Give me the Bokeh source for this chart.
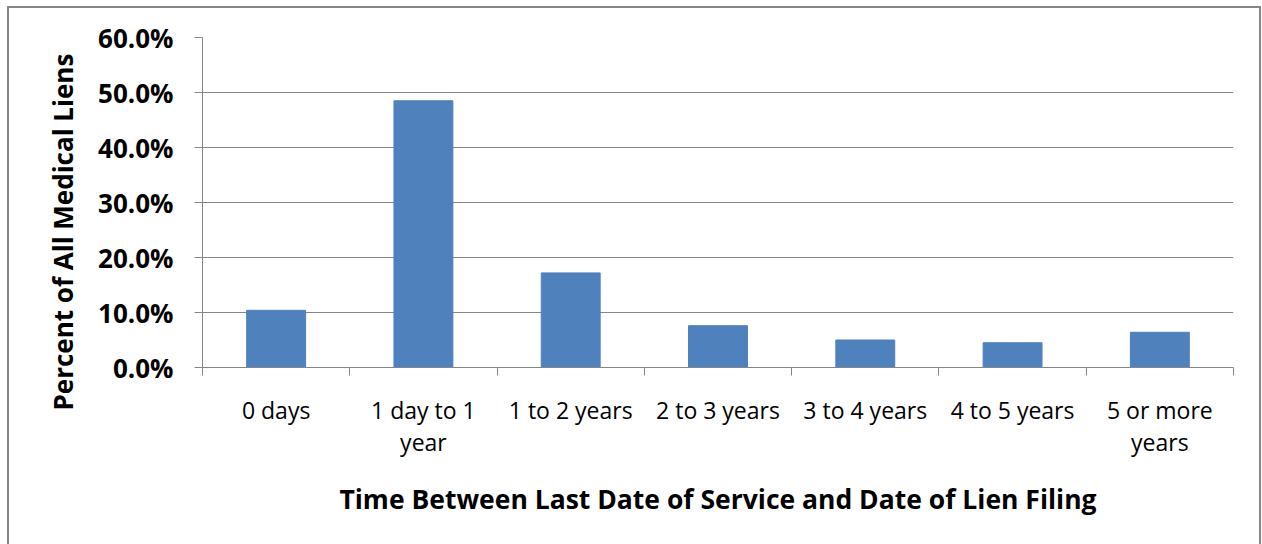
from bokeh.embed import file_html
from bokeh.models import (FixedTicker, Grid, InlineStyleSheet, LinearAxis,
                          PrintfTickFormatter, Range1d, Title)
from bokeh.plotting import figure
from bokeh.resources import INLINE

# Time between last date of service and lien filing
categories = ["0 days", "1 day to 1 year", "1 to 2 years", "2 to 3 years",
              "3 to 4 years", "4 to 5 years", "5 or more years"]
category_labels = ["0 days", "1 day to 1\nyear", "1 to 2 years", "2 to 3 years",
                   "3 to 4 years", "4 to 5 years", "5 or more\nyears"]
percent_of_liens = [10.4, 48.5, 17.2, 7.6, 5.0, 4.5, 6.4]
y_ticks = [0, 10, 20, 30, 40, 50, 60]

x_title = "Time Between Last Date of Service and Date of Lien Filing"
y_title = "Percent of All Medical Liens"

BAR = "#4F81BD"
GRID = "#868686"
FONT = "Open Sans"

n = len(categories)
slot_centers = [i + 0.5 for i in range(n)]
slot_edges = list(range(n + 1))

# thin gray frame around the whole chart area
chart_border = InlineStyleSheet(css="""
:host { position: relative; }
:host::after {
  content: ""; position: absolute; pointer-events: none;
  left: 7px; top: 6px; right: 1px; bottom: 0;
  border: 2px solid #868686; border-bottom: none;
}
""")

p = figure(width=1262, height=544,
           x_range=Range1d(0, n),
           y_range=Range1d(0, 60),
           x_axis_type=None, y_axis_type=None,
           output_backend="svg", toolbar_location=None,
           min_border_left=202, min_border_right=29,
           min_border_top=37, min_border_bottom=177,
           stylesheets=[chart_border])
p.outline_line_color = None
p.background_fill_color = "white"
p.border_fill_color = "white"

p.add_layout(Grid(dimension=1, ticker=FixedTicker(ticks=y_ticks),
                  grid_line_color=GRID, grid_line_width=1))

p.vbar(x=slot_centers, top=percent_of_liens, width=0.4,
       fill_color=BAR, line_color=BAR)

# value axis
yax = LinearAxis(ticker=FixedTicker(ticks=y_ticks),
                 formatter=PrintfTickFormatter(format="%.1f%%"))
yax.axis_line_color = GRID
yax.major_tick_line_color = GRID
yax.major_tick_in = 0
yax.major_tick_out = 8
yax.minor_tick_line_color = None
yax.major_label_text_font = FONT
yax.major_label_text_font_style = "bold"
yax.major_label_text_font_size = "26px"
yax.major_label_text_color = "black"
yax.major_label_standoff = 21
p.add_layout(yax, "left")

p.add_layout(Title(text=y_title, align="left", offset=-43, standoff=30,
                   text_font=FONT, text_font_style="bold",
                   text_font_size="26px", text_color="black"), "left")

# boundary ticks between categories
edge_axis = LinearAxis(ticker=FixedTicker(ticks=slot_edges),
                       major_label_overrides={e: "" for e in slot_edges})
edge_axis.axis_line_color = GRID
edge_axis.major_tick_line_color = GRID
edge_axis.major_tick_in = 0
edge_axis.major_tick_out = 8
edge_axis.minor_tick_line_color = None
edge_axis.major_label_text_font_size = "1px"
edge_axis.major_label_standoff = 0
p.add_layout(edge_axis, "below")

# category names under each slot, with the axis title below them
name_axis = LinearAxis(ticker=FixedTicker(ticks=slot_centers),
                       major_label_overrides=dict(zip(slot_centers, category_labels)))
name_axis.axis_line_color = None
name_axis.major_tick_line_color = None
name_axis.minor_tick_line_color = None
name_axis.major_label_text_font = FONT
name_axis.major_label_text_font_size = "23px"
name_axis.major_label_text_line_height = 1.0
name_axis.major_label_text_color = "black"
name_axis.major_label_standoff = 12
name_axis.axis_label = x_title
name_axis.axis_label_text_font = FONT
name_axis.axis_label_text_font_style = "bold"
name_axis.axis_label_text_font_size = "26.5px"
name_axis.axis_label_text_color = "black"
name_axis.axis_label_standoff = 20
p.add_layout(name_axis, "below")

open("out.html", "w").write(file_html(p, INLINE))
